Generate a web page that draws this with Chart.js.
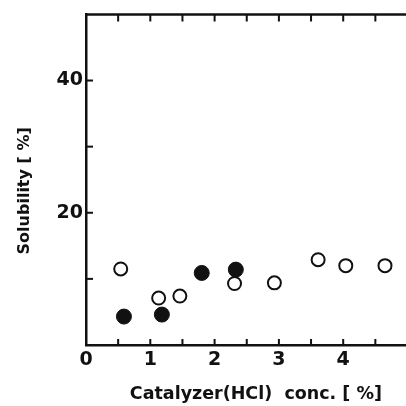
<!DOCTYPE html>
<html>
<head>
<meta charset="utf-8">
<script src="https://cdn.jsdelivr.net/npm/chart.js@4"></script>
<style>
  html, body { margin: 0; padding: 0; background: #fff; overflow: hidden; }
  #wrap { width: 406px; height: 406px; overflow: hidden; }
</style>
</head>
<body>
<div id="wrap"><canvas id="chart" width="416" height="406"></canvas></div>
<script>
// Data
const openX = [0.54, 1.13, 1.46, 2.31, 2.93, 3.61, 4.04, 4.65];
const openY = [11.5, 7.1, 7.4, 9.3, 9.4, 12.9, 12.0, 12.0];
const filledX = [0.59, 1.18, 1.80, 2.33];
const filledY = [4.3, 4.6, 10.9, 11.4];
const xLabels = [0, 1, 2, 3, 4];
const yLabels = [20, 40];

const ink = '#111';
const font = { family: '"DejaVu Sans", Verdana, sans-serif', weight: 'bold' };

const toPoints = (xs, ys) => xs.map((x, i) => ({ x: x, y: ys[i] }));

// Inward ticks + top border
const frame = {
  id: 'frame',
  afterDraw(chart) {
    const ctx = chart.ctx;
    const area = chart.chartArea;
    const xs = chart.scales.x, ys = chart.scales.y;
    ctx.save();
    ctx.strokeStyle = ink;
    ctx.lineWidth = 2;
    xs.ticks.forEach(t => {
      const px = xs.getPixelForValue(t.value);
      if (t.value <= 0) return;
      ctx.beginPath();
      ctx.moveTo(px, area.bottom); ctx.lineTo(px, area.bottom - 6);
      ctx.moveTo(px, area.top); ctx.lineTo(px, area.top + 7);
      ctx.stroke();
    });
    ys.ticks.forEach(t => {
      if (t.value <= 0 || t.value >= 50) return;
      const py = ys.getPixelForValue(t.value);
      ctx.beginPath();
      ctx.moveTo(area.left, py); ctx.lineTo(area.left + 7, py);
      ctx.stroke();
    });
    ctx.lineWidth = 2.5;
    ctx.beginPath();
    ctx.moveTo(area.left, area.top); ctx.lineTo(area.right, area.top);
    ctx.stroke();
    ctx.restore();
  }
};

new Chart(document.getElementById('chart'), {
  type: 'scatter',
  data: {
    datasets: [
      {
        label: 'open',
        data: toPoints(openX, openY),
        pointRadius: 6.5,
        pointBorderWidth: 2,
        pointBorderColor: ink,
        pointBackgroundColor: '#fff'
      },
      {
        label: 'filled',
        data: toPoints(filledX, filledY),
        pointRadius: 7.5,
        pointBorderWidth: 1,
        pointBorderColor: ink,
        pointBackgroundColor: ink
      }
    ]
  },
  options: {
    responsive: false,
    animation: false,
    layout: { padding: { top: 13, right: 1, left: 0, bottom: 0 } },
    plugins: { legend: { display: false }, tooltip: { enabled: false } },
    scales: {
      x: {
        type: 'linear',
        min: 0, max: 5,
        afterFit: s => { s.height = 61; },
        grid: { display: false, drawTicks: false },
        border: { display: true, color: ink, width: 2.5 },
        ticks: {
          stepSize: 0.5,
          autoSkip: false,
          maxRotation: 0,
          padding: 4,
          color: ink,
          font: Object.assign({ size: 19 }, font),
          callback: v => xLabels.includes(v) ? String(v) : ''
        },
        title: {
          display: true,
          text: '   Catalyzer(HCl)  conc. [ %]',
          color: ink,
          font: Object.assign({ size: 17.5 }, font),
          padding: { top: 7, bottom: 1 }
        }
      },
      y: {
        min: 0, max: 50,
        afterFit: s => { s.width = 86; },
        grid: { display: false, drawTicks: false },
        border: { display: true, color: ink, width: 2.5 },
        ticks: {
          stepSize: 10,
          padding: 3,
          color: ink,
          font: Object.assign({ size: 19 }, font),
          callback: v => yLabels.includes(v) ? String(v) : ''
        },
        title: {
          display: true,
          text: 'Solubility [ %]    ',
          color: ink,
          font: Object.assign({ size: 16 }, font),
          padding: { top: 15, bottom: 0 }
        }
      }
    }
  },
  plugins: [frame]
});
</script>
</body>
</html>
